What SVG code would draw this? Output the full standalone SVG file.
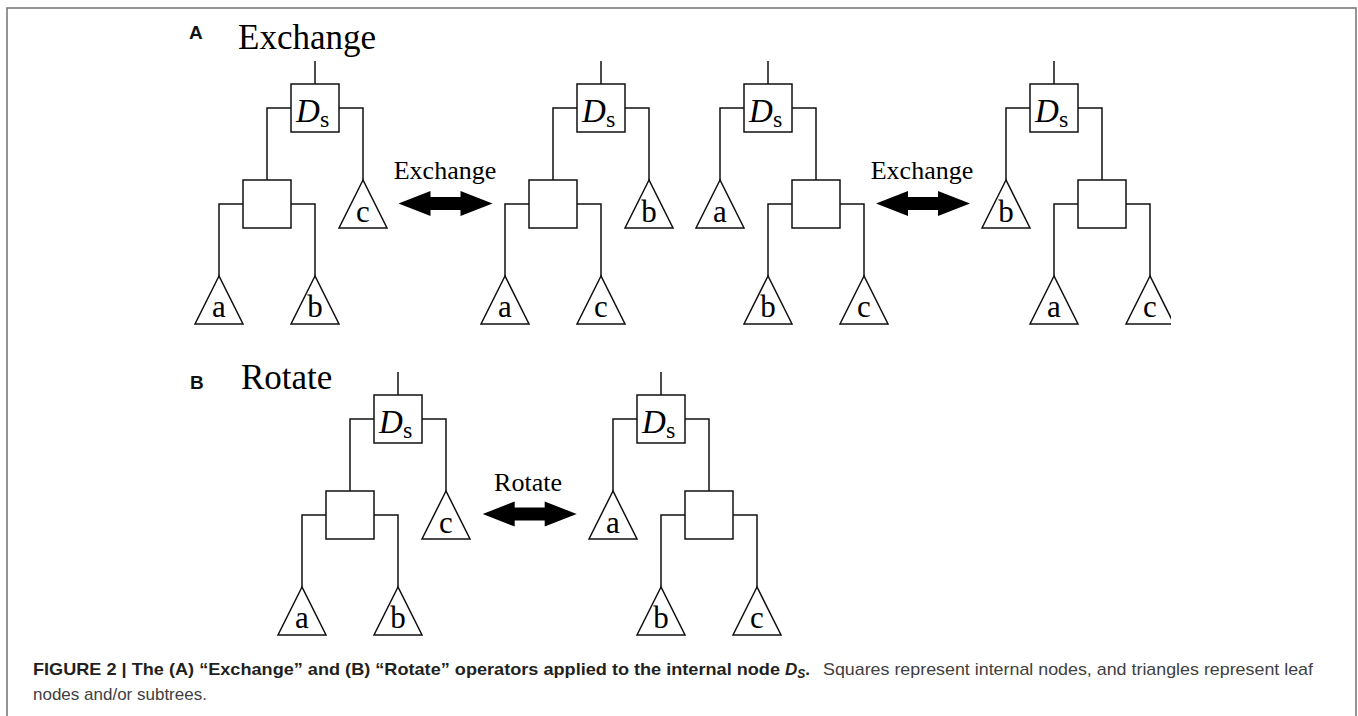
<svg xmlns="http://www.w3.org/2000/svg" width="1358" height="716" viewBox="0 0 1358 716">
  <style>
    .frame { fill: none; stroke: #7a7a7a; stroke-width: 1.6; }
    .ln { fill: none; stroke: #111; stroke-width: 1.5; }
    .box { fill: #fff; stroke: #111; stroke-width: 1.5; }
    .tri { fill: #fff; stroke: #111; stroke-width: 1.5; stroke-linejoin: miter; }
    .serif { font-family: "Liberation Serif", "Times New Roman", serif; fill: #000; }
    .title { font-size: 35px; }
    .leaf { font-size: 31px; text-anchor: middle; }
    .dvar { font-size: 33px; font-style: italic; }
    .dsub { font-size: 24px; }
    .op { font-size: 26px; text-anchor: middle; }
    .panel { font-family: "Liberation Sans", Arial, sans-serif; font-weight: bold; font-size: 19px; fill: #111; }
    .capb { font-family: "Liberation Sans", Arial, sans-serif; font-weight: bold; font-size: 17px; fill: #231f20; }
    .capr { font-family: "Liberation Sans", Arial, sans-serif; font-size: 17px; fill: #404040; }
    .arrow { fill: #000; }
  </style>
  <defs>
    <!-- double-headed block arrow, centred on the origin -->
    <path id="dblArrow" class="arrow" d="M-47,0 L-15,-12.5 L-15,-6.5 L15,-6.5 L15,-12.5 L47,0 L15,12.5 L15,6.5 L-15,6.5 L-15,12.5 Z"/>
    <clipPath id="edgeClip">
      <rect x="0" y="0" width="1171" height="716"/>
    </clipPath>
  </defs>

  <rect class="frame" x="7" y="8" width="1349" height="730"/>

  <!-- panel headings -->
  <text class="panel" x="189" y="39">A</text>
  <text class="serif title" x="238" y="49">Exchange</text>
  <text class="panel" x="190" y="389">B</text>
  <text class="serif title" x="241" y="389">Rotate</text>

  <!-- tree edges -->
  <g id="connectors">
    <!-- A1 -->
    <path class="ln" d="M315,61 V84 M291,108 H267 V180 M339,108 H363 V180 M243,204 H219 V276 M291,204 H315 V276"/>
    <!-- A2 -->
    <path class="ln" d="M601,61 V84 M577,108 H553 V180 M625,108 H649 V180 M529,204 H505 V276 M577,204 H601 V276"/>
    <!-- A3 -->
    <path class="ln" d="M768,61 V84 M744,108 H720 V180 M792,108 H816 V180 M792,204 H768 V276 M840,204 H864 V276"/>
    <!-- A4 -->
    <path class="ln" d="M1054,61 V84 M1030,108 H1006 V180 M1078,108 H1102 V180 M1078,204 H1054 V276 M1126,204 H1150 V276"/>
    <!-- B1 -->
    <path class="ln" d="M398,372 V395 M374,419 H350 V491 M422,419 H446 V491 M326,515 H302 V587 M374,515 H398 V587"/>
    <!-- B2 -->
    <path class="ln" d="M661,372 V395 M637,419 H613 V491 M685,419 H709 V491 M685,515 H661 V587 M733,515 H757 V587"/>
  </g>

  <!-- operator arrows -->
  <g id="op-exchange-1">
    <text class="serif op" x="445" y="179">Exchange</text>
    <use href="#dblArrow" x="445.5" y="203.5"/>
  </g>
  <g id="op-exchange-2">
    <text class="serif op" x="922" y="179">Exchange</text>
    <use href="#dblArrow" x="923" y="203.5"/>
  </g>
  <g id="op-rotate">
    <text class="serif op" x="528" y="491">Rotate</text>
    <use href="#dblArrow" x="529.7" y="514"/>
  </g>

  <!-- Tree A1 -->
  <g id="a1-ds">
    <rect class="box" x="291" y="84" width="48" height="48"/>
    <text class="serif dvar" x="296" y="121.5">D</text><text class="serif dsub" x="320" y="126.5">s</text>
  </g>
  <g id="a1-int"><rect class="box" x="243" y="180" width="48" height="48"/></g>
  <g id="a1-c"><polygon class="tri" points="363,180 339,228 387,228"/><text class="serif leaf" x="363" y="222">c</text></g>
  <g id="a1-a"><polygon class="tri" points="219,276 195,324 243,324"/><text class="serif leaf" x="219" y="317">a</text></g>
  <g id="a1-b"><polygon class="tri" points="315,276 291,324 339,324"/><text class="serif leaf" x="315" y="317">b</text></g>

  <!-- Tree A2 -->
  <g id="a2-ds">
    <rect class="box" x="577" y="84" width="48" height="48"/>
    <text class="serif dvar" x="582" y="121.5">D</text><text class="serif dsub" x="606" y="126.5">s</text>
  </g>
  <g id="a2-int"><rect class="box" x="529" y="180" width="48" height="48"/></g>
  <g id="a2-b"><polygon class="tri" points="649,180 625,228 673,228"/><text class="serif leaf" x="649" y="222">b</text></g>
  <g id="a2-a"><polygon class="tri" points="505,276 481,324 529,324"/><text class="serif leaf" x="505" y="317">a</text></g>
  <g id="a2-c"><polygon class="tri" points="601,276 577,324 625,324"/><text class="serif leaf" x="601" y="317">c</text></g>

  <!-- Tree A3 -->
  <g id="a3-ds">
    <rect class="box" x="744" y="84" width="48" height="48"/>
    <text class="serif dvar" x="749" y="121.5">D</text><text class="serif dsub" x="773" y="126.5">s</text>
  </g>
  <g id="a3-int"><rect class="box" x="792" y="180" width="48" height="48"/></g>
  <g id="a3-a"><polygon class="tri" points="720,180 696,228 744,228"/><text class="serif leaf" x="720" y="222">a</text></g>
  <g id="a3-b"><polygon class="tri" points="768,276 744,324 792,324"/><text class="serif leaf" x="768" y="317">b</text></g>
  <g id="a3-c"><polygon class="tri" points="864,276 840,324 888,324"/><text class="serif leaf" x="864" y="317">c</text></g>

  <!-- Tree A4 -->
  <g id="a4-ds">
    <rect class="box" x="1030" y="84" width="48" height="48"/>
    <text class="serif dvar" x="1035" y="121.5">D</text><text class="serif dsub" x="1059" y="126.5">s</text>
  </g>
  <g id="a4-int"><rect class="box" x="1078" y="180" width="48" height="48"/></g>
  <g id="a4-b"><polygon class="tri" points="1006,180 982,228 1030,228"/><text class="serif leaf" x="1006" y="222">b</text></g>
  <g id="a4-a"><polygon class="tri" points="1054,276 1030,324 1078,324"/><text class="serif leaf" x="1054" y="317">a</text></g>
  <g id="a4-c" clip-path="url(#edgeClip)"><polygon class="tri" points="1150,276 1126,324 1174,324"/><text class="serif leaf" x="1150" y="317">c</text></g>

  <!-- Tree B1 -->
  <g id="b1-ds">
    <rect class="box" x="374" y="395" width="48" height="48"/>
    <text class="serif dvar" x="379" y="432.5">D</text><text class="serif dsub" x="403" y="437.5">s</text>
  </g>
  <g id="b1-int"><rect class="box" x="326" y="491" width="48" height="48"/></g>
  <g id="b1-c"><polygon class="tri" points="446,491 422,539 470,539"/><text class="serif leaf" x="446" y="533">c</text></g>
  <g id="b1-a"><polygon class="tri" points="302,587 278,635 326,635"/><text class="serif leaf" x="302" y="628">a</text></g>
  <g id="b1-b"><polygon class="tri" points="398,587 374,635 422,635"/><text class="serif leaf" x="398" y="628">b</text></g>

  <!-- Tree B2 -->
  <g id="b2-ds">
    <rect class="box" x="637" y="395" width="48" height="48"/>
    <text class="serif dvar" x="642" y="432.5">D</text><text class="serif dsub" x="666" y="437.5">s</text>
  </g>
  <g id="b2-int"><rect class="box" x="685" y="491" width="48" height="48"/></g>
  <g id="b2-a"><polygon class="tri" points="613,491 589,539 637,539"/><text class="serif leaf" x="613" y="533">a</text></g>
  <g id="b2-b"><polygon class="tri" points="661,587 637,635 685,635"/><text class="serif leaf" x="661" y="628">b</text></g>
  <g id="b2-c"><polygon class="tri" points="757,587 733,635 781,635"/><text class="serif leaf" x="757" y="628">c</text></g>

  <!-- caption -->
  <g id="caption">
    <text class="capb" x="33" y="675" textLength="747" lengthAdjust="spacingAndGlyphs">FIGURE 2 | The (A) “Exchange” and (B) “Rotate” operators applied to the internal node</text>
    <text class="capb" x="785" y="675" font-style="italic">D<tspan font-size="12" dy="3">S</tspan><tspan font-style="normal" dy="-3">.</tspan></text>
    <text class="capr" x="823" y="675" textLength="490" lengthAdjust="spacingAndGlyphs">Squares represent internal nodes, and triangles represent leaf</text>
    <text class="capr" x="33" y="700" font-size="15.5px">nodes and/or subtrees.</text>
  </g>
</svg>
